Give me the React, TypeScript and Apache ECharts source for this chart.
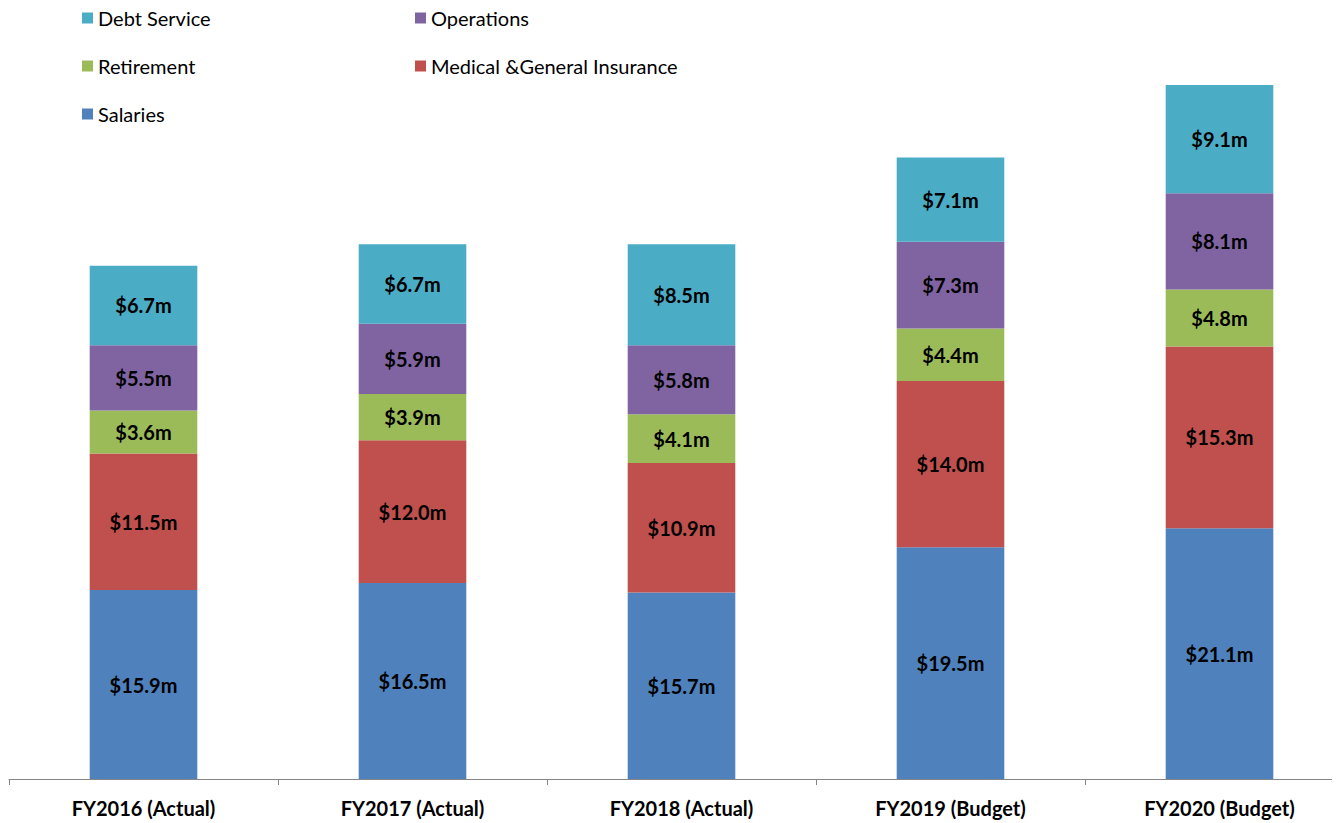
import React, { useEffect, useRef } from "react";
import * as echarts from "echarts";

const categories = ["FY2016 (Actual)", "FY2017 (Actual)", "FY2018 (Actual)", "FY2019 (Budget)", "FY2020 (Budget)"];
const salaries = [15.9, 16.5, 15.7, 19.5, 21.1];
const medical = [11.5, 12.0, 10.9, 14.0, 15.3];
const retirement = [3.6, 3.9, 4.1, 4.4, 4.8];
const operations = [5.5, 5.9, 5.8, 7.3, 8.1];
const debtService = [6.7, 6.7, 8.5, 7.1, 9.1];

const seriesDefs = [
  { name: "Salaries", data: salaries, color: "#4F81BD" },
  { name: "Medical &General Insurance", data: medical, color: "#C0504D" },
  { name: "Retirement", data: retirement, color: "#9BBB59" },
  { name: "Operations", data: operations, color: "#8064A2" },
  { name: "Debt Service", data: debtService, color: "#4BACC6" },
];

const FONT = "Lato";

export default function App() {
  const ref = useRef<HTMLDivElement>(null);
  useEffect(() => {
    if (!ref.current) return;
    const chart = echarts.init(ref.current, undefined, { renderer: "svg" });
    const legendText = { fontFamily: FONT, fontSize: 20, color: "#000" };
    chart.setOption({
      animation: false,
      textStyle: { fontFamily: FONT },
      legend: [
        {
          data: ["Debt Service", "Retirement", "Salaries"],
          orient: "vertical",
          left: 74,
          top: 0,
          padding: 0,
          itemWidth: 11,
          itemHeight: 11,
          itemGap: 28,
          icon: "rect",
          textStyle: legendText,
          selectedMode: false,
        },
        {
          data: ["Operations", "Medical &General Insurance"],
          orient: "vertical",
          left: 407,
          top: 0,
          padding: 0,
          itemWidth: 11,
          itemHeight: 11,
          itemGap: 28,
          icon: "rect",
          textStyle: legendText,
          selectedMode: false,
        },
      ],
      grid: { left: 1, right: 0, top: 58, bottom: 44, containLabel: false },
      xAxis: {
        type: "category",
        data: categories,
        axisLine: { lineStyle: { color: "#868686", width: 1 } },
        axisTick: { show: true, length: 6, lineStyle: { color: "#868686" } },
        axisLabel: { fontFamily: FONT, fontSize: 20, fontWeight: "bold", color: "#000", margin: 19 },
      },
      yAxis: {
        type: "value",
        min: 0,
        max: 60,
        show: false,
        splitLine: { show: false },
      },
      series: seriesDefs.map((s) => ({
        name: s.name,
        type: "bar",
        stack: "total",
        data: s.data,
        barWidth: "40%",
        itemStyle: { color: s.color },
        label: {
          show: true,
          position: "inside",
          formatter: (p: any) => "$" + Number(p.value).toFixed(1) + "m",
          fontFamily: FONT,
          fontSize: 20,
          fontWeight: "bold",
          color: "#000",
        },
      })),
    });
    return () => chart.dispose();
  }, []);
  return (
    <div style={{ width: 1332, height: 815, overflow: "hidden" }}>
      <div ref={ref} style={{ width: 1346, height: 815 }} />
    </div>
  );
}
